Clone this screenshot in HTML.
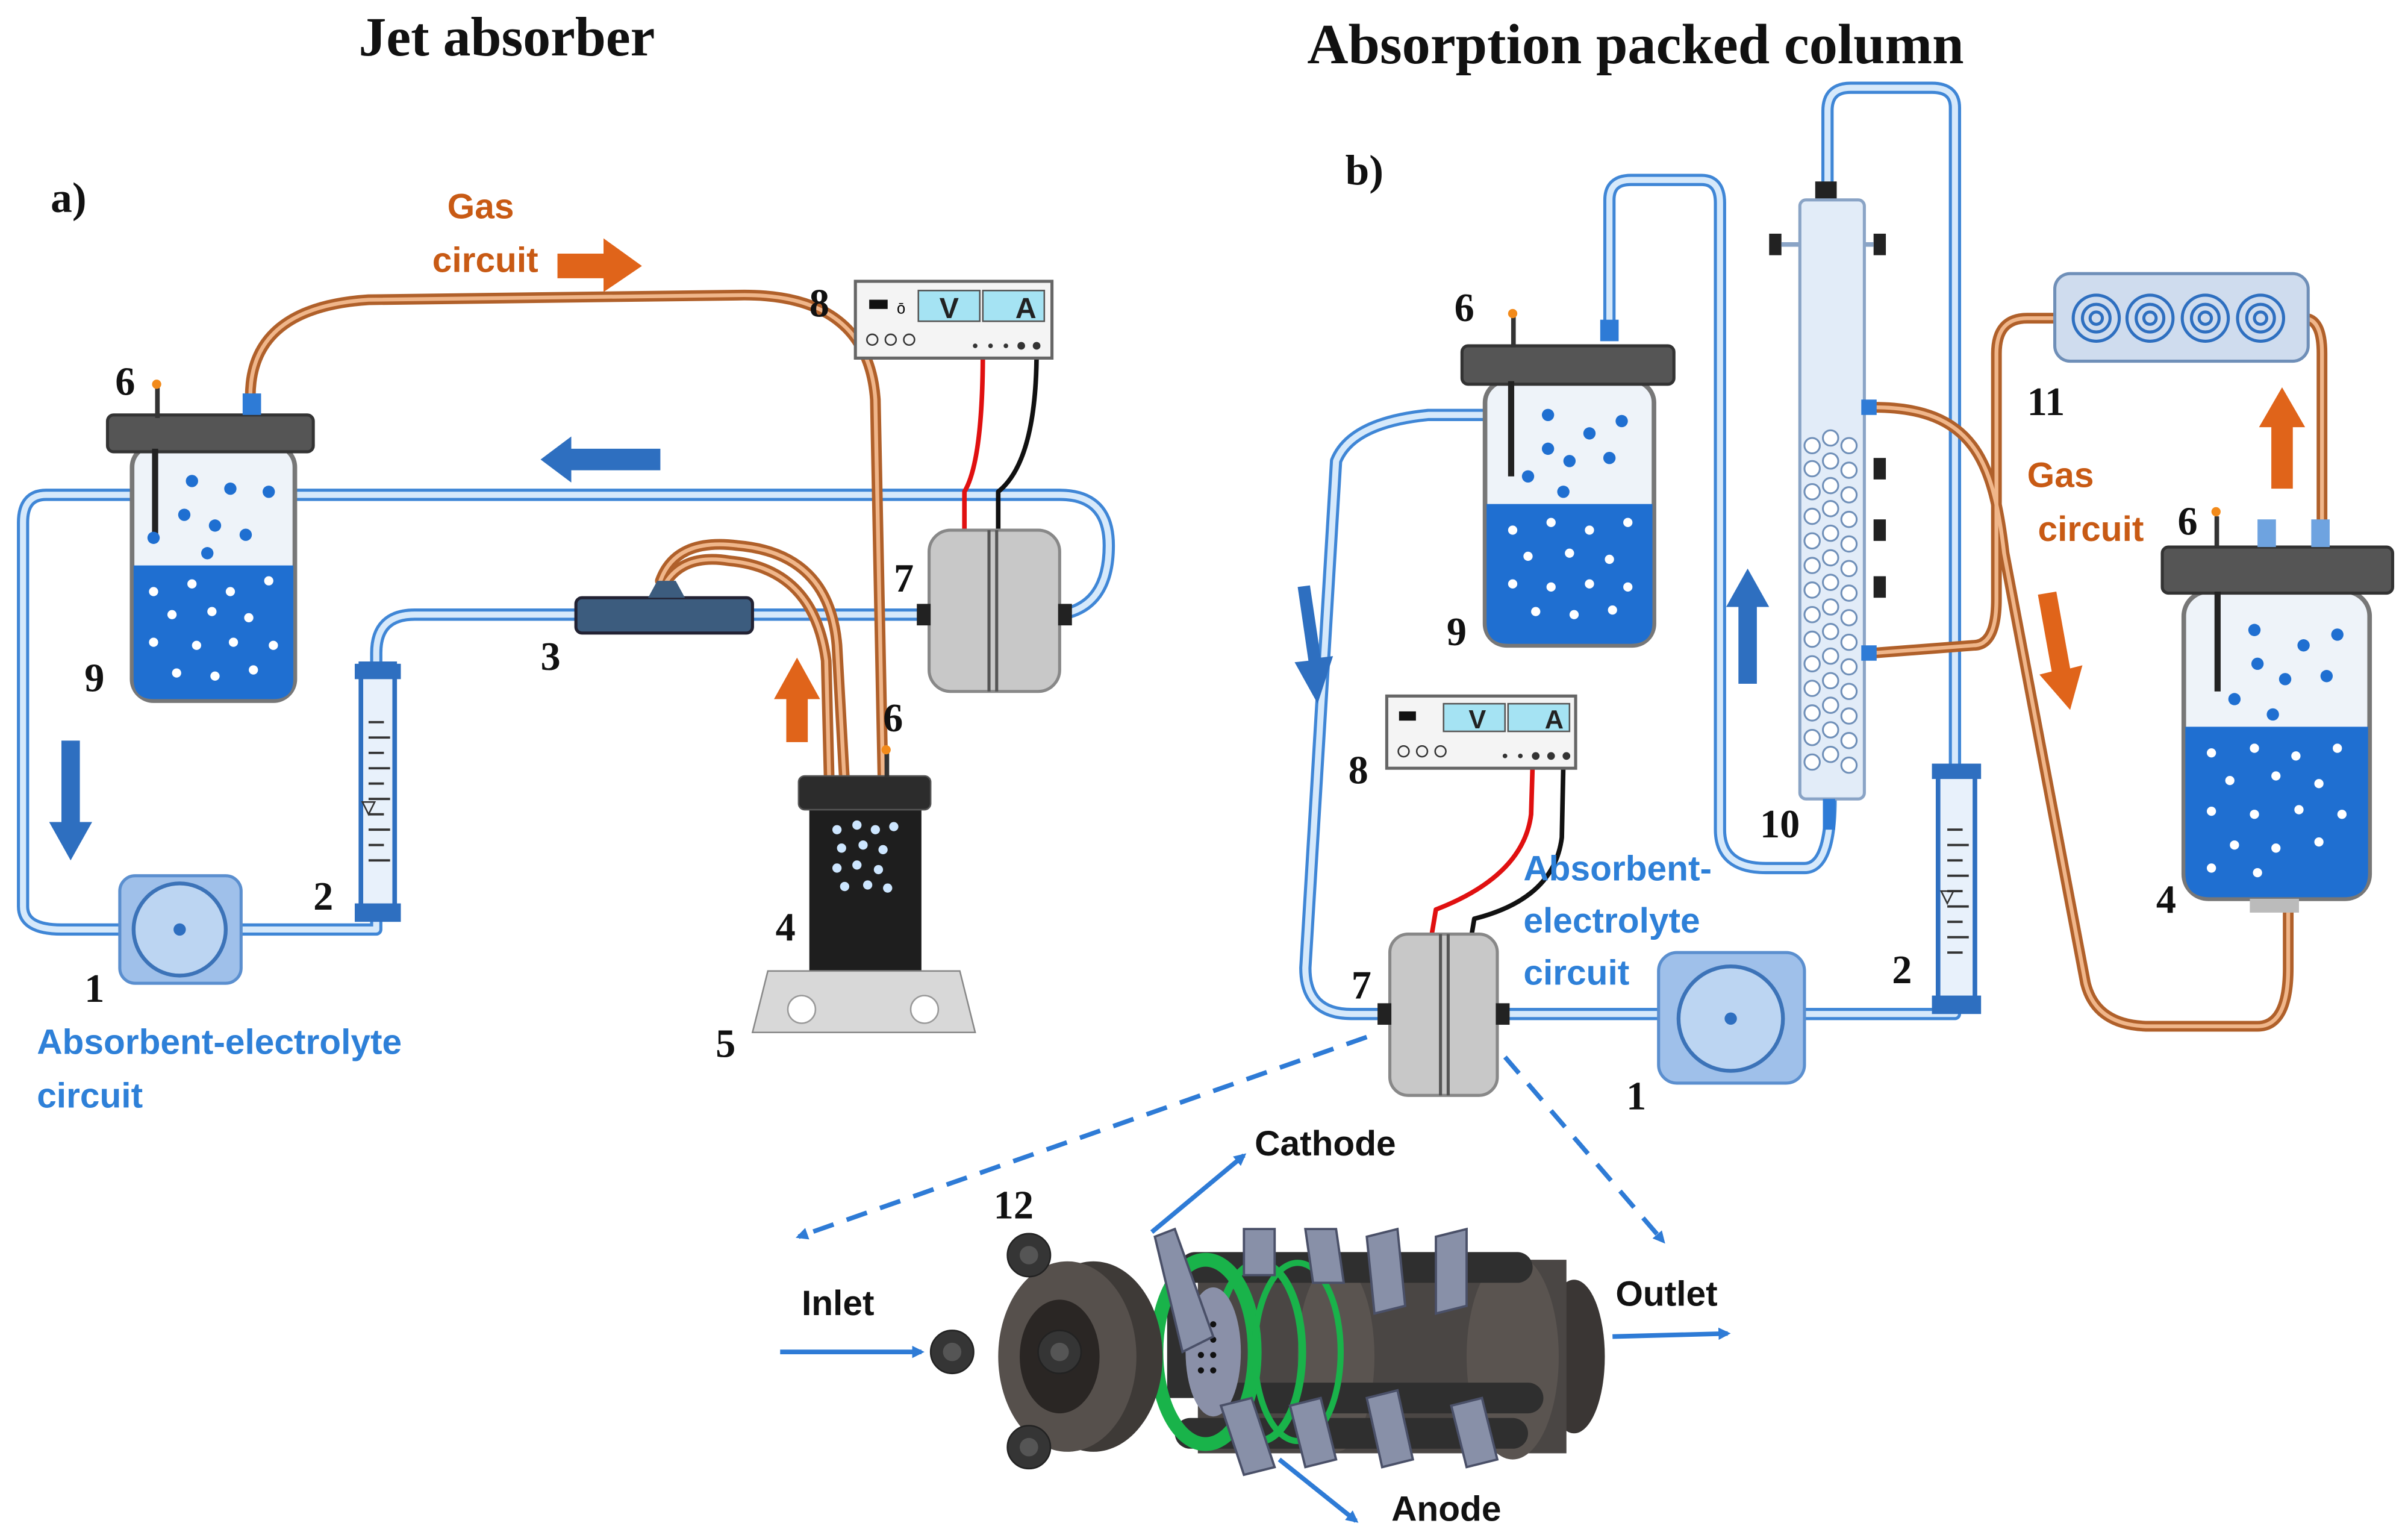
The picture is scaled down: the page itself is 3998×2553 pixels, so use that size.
<!DOCTYPE html>
<html><head><meta charset="utf-8"><style>
html,body{margin:0;padding:0;background:#fff}
svg{display:block}
.t{font-family:"Liberation Serif",serif;font-weight:bold;fill:#111}
.s{font-family:"Liberation Sans",sans-serif;font-weight:bold}
</style></head><body>
<svg width="3998" height="2553" viewBox="0 0 1568 1001" xmlns="http://www.w3.org/2000/svg">
<defs>
<marker id="ah" markerWidth="8" markerHeight="8" refX="6" refY="4" orient="auto" markerUnits="userSpaceOnUse"><path d="M0,0 L8,4 L0,8 z" fill="#2e7bd6"/></marker>
</defs>
<rect width="1568" height="1001" fill="#fff"/>
<text class="t" x="330" y="36" font-size="36" text-anchor="middle">Jet absorber</text>
<text class="t" x="1065" y="41" font-size="37" text-anchor="middle">Absorption packed column</text>
<text class="t" x="33" y="138" font-size="28">a)</text>
<text class="t" x="876" y="120" font-size="28">b)</text>

<!-- ===== LEFT TUBES ===== -->
<g fill="none" stroke-linejoin="round" stroke-linecap="round">
<g stroke="#3f86d6" stroke-width="8">
<path d="M85,322 L30,322 Q15,322 15,340 L15,590 Q15,605 40,605 L80,605"/>
<path d="M193,322 L690,322 Q722,322 722,355 Q722,395 690,400 L680,400"/>
<path d="M155,605 L245,605 L245,600"/>
<path d="M245,432 L245,425 Q245,400 270,400 L375,400"/>
<path d="M490,400 L600,400"/>
</g>
<g stroke="#d6e9fb" stroke-width="4">
<path d="M85,322 L30,322 Q15,322 15,340 L15,590 Q15,605 40,605 L80,605"/>
<path d="M193,322 L690,322 Q722,322 722,355 Q722,395 690,400 L680,400"/>
<path d="M155,605 L245,605 L245,600"/>
<path d="M245,432 L245,425 Q245,400 270,400 L375,400"/>
<path d="M490,400 L600,400"/>
</g>
<g stroke="#b0602a" stroke-width="7">
<path d="M163,258 Q163,200 240,195 L480,192 Q565,190 570,260 L575,510"/>
<path d="M430,378 Q440,350 480,355 Q540,360 545,420 L550,510"/>
<path d="M433,380 Q445,360 475,365 Q530,370 538,430 L540,510"/>
</g>
<g stroke="#f0b68a" stroke-width="2.5">
<path d="M163,258 Q163,200 240,195 L480,192 Q565,190 570,260 L575,510"/>
<path d="M430,378 Q440,350 480,355 Q540,360 545,420 L550,510"/>
<path d="M433,380 Q445,360 475,365 Q530,370 538,430 L540,510"/>
</g>
<path d="M640,228 Q640,300 628,320 L628,345" stroke="#e01010" stroke-width="3"/>
<path d="M675,228 Q675,300 650,320 L650,345" stroke="#111" stroke-width="3"/>
</g>

<!-- Left beaker 9 -->
<rect x="86" y="290" width="106" height="166" rx="14" fill="#eef3f9" stroke="#777" stroke-width="3"/>
<path d="M87,368 L191,368 L191,442 Q191,455 178,455 L100,455 Q87,455 87,442 Z" fill="#1f6fd1"/>
<rect x="70" y="270" width="134" height="24" rx="4" fill="#555" stroke="#333" stroke-width="2"/>
<rect x="99" y="292" width="4" height="60" fill="#222"/>
<rect x="101" y="252" width="3" height="20" fill="#333"/><circle cx="102" cy="250" r="3" fill="#f28a1a"/>
<rect x="158" y="256" width="12" height="14" fill="#2e7bd6"/>
<g fill="#1f6fd1"><circle cx="125" cy="313" r="4"/><circle cx="150" cy="318" r="4"/><circle cx="175" cy="320" r="4"/><circle cx="120" cy="335" r="4"/><circle cx="140" cy="342" r="4"/><circle cx="160" cy="348" r="4"/><circle cx="100" cy="350" r="4"/><circle cx="135" cy="360" r="4"/></g>
<g fill="#fff"><circle cx="100" cy="385" r="3"/><circle cx="125" cy="380" r="3"/><circle cx="150" cy="385" r="3"/><circle cx="175" cy="378" r="3"/><circle cx="112" cy="400" r="3"/><circle cx="138" cy="398" r="3"/><circle cx="162" cy="402" r="3"/><circle cx="100" cy="418" r="3"/><circle cx="128" cy="420" r="3"/><circle cx="152" cy="418" r="3"/><circle cx="178" cy="420" r="3"/><circle cx="115" cy="438" r="3"/><circle cx="140" cy="440" r="3"/><circle cx="165" cy="436" r="3"/></g>

<!-- pump 1 left -->
<rect x="78" y="570" width="79" height="70" rx="10" fill="#9fc0ea" stroke="#5b8fcf" stroke-width="2"/>
<circle cx="117" cy="605" r="30" fill="#bcd5f2" stroke="#3c73b8" stroke-width="2.5"/><circle cx="117" cy="605" r="4" fill="#2e6fc0"/>
<!-- flowmeter 2 left -->
<rect x="235" y="432" width="22" height="165" fill="#e8f1fb" stroke="#2e6fc0" stroke-width="3"/>
<rect x="231" y="432" width="30" height="10" fill="#2e6fc0"/><rect x="231" y="588" width="30" height="12" fill="#2e6fc0"/>
<g stroke="#333" stroke-width="1.5"><path d="M240,470h10M240,480h14M240,490h10M240,500h14M240,510h10M240,520h14M240,530h10M240,540h14M240,550h10M240,560h14"/></g>
<path d="M236,522 L244,522 L240,530 Z" fill="none" stroke="#333"/>
<!-- 3 -->
<rect x="375" y="389" width="115" height="23" rx="4" fill="#3c5c7e" stroke="#223" stroke-width="2"/>
<path d="M422,389 L428,378 L440,378 L446,389 Z" fill="#3c5c7e"/>
<!-- cell 7 left -->
<rect x="605" y="345" width="85" height="105" rx="14" fill="#c8c8c8" stroke="#888" stroke-width="2"/>
<rect x="643" y="345" width="2" height="105" fill="#555"/><rect x="648" y="345" width="2" height="105" fill="#555"/>
<rect x="597" y="393" width="9" height="14" fill="#222"/><rect x="689" y="393" width="9" height="14" fill="#222"/>
<!-- PSU 8 left -->
<rect x="557" y="183" width="128" height="50" fill="#f4f4f4" stroke="#666" stroke-width="2"/>
<rect x="566" y="195" width="12" height="6" fill="#111"/><text x="584" y="204" font-size="10" font-family="Liberation Sans">ō</text>
<rect x="598" y="189" width="40" height="20" fill="#a5e3f3" stroke="#555"/><rect x="640" y="189" width="40" height="20" fill="#a5e3f3" stroke="#555"/>
<text class="s" x="618" y="207" font-size="19" text-anchor="middle" fill="#222">V</text><text class="s" x="668" y="207" font-size="19" text-anchor="middle" fill="#222">A</text>
<g fill="none" stroke="#333"><circle cx="568" cy="221" r="3.5"/><circle cx="580" cy="221" r="3.5"/><circle cx="592" cy="221" r="3.5"/></g>
<g fill="#333"><circle cx="635" cy="225" r="1.5"/><circle cx="645" cy="225" r="1.5"/><circle cx="655" cy="225" r="1.5"/><circle cx="665" cy="225" r="2.5"/><circle cx="675" cy="225" r="2.5"/></g>
<!-- beaker 4 left -->
<rect x="527" y="515" width="73" height="125" rx="6" fill="#1e1e1e"/>
<rect x="520" y="505" width="86" height="22" rx="4" fill="#2c2c2c" stroke="#555"/>
<rect x="576" y="490" width="3" height="16" fill="#333"/><circle cx="577" cy="488" r="3" fill="#f28a1a"/>
<g fill="#cde6ff"><circle cx="545" cy="540" r="3"/><circle cx="558" cy="537" r="3"/><circle cx="570" cy="540" r="3"/><circle cx="582" cy="538" r="3"/><circle cx="548" cy="552" r="3"/><circle cx="562" cy="550" r="3"/><circle cx="575" cy="553" r="3"/><circle cx="545" cy="565" r="3"/><circle cx="558" cy="563" r="3"/><circle cx="572" cy="566" r="3"/><circle cx="550" cy="577" r="3"/><circle cx="565" cy="576" r="3"/><circle cx="578" cy="578" r="3"/></g>
<!-- stirrer 5 -->
<path d="M500,632 L625,632 L635,672 L490,672 Z" fill="#d8d8d8" stroke="#888"/>
<circle cx="522" cy="657" r="9" fill="#fff" stroke="#999"/><circle cx="602" cy="657" r="9" fill="#fff" stroke="#999"/>

<!-- left arrows & labels -->
<path d="M430,292 L372,292 L372,284 L352,299 L372,314 L372,306 L430,306 Z" fill="#2e6fc0"/>
<path d="M40,482 L40,535 L32,535 L46,560 L60,535 L52,535 L52,482 Z" fill="#2e6fc0"/>
<path d="M512,483 L512,455 L504,455 L519,428 L534,455 L526,455 L526,483 Z" fill="#e0641a"/>
<path d="M363,165 L393,165 L393,155 L418,173 L393,190 L393,181 L363,181 Z" fill="#e0641a"/>
<text class="s" x="313" y="142" font-size="23" text-anchor="middle" fill="#c85a14">Gas</text>
<text class="s" x="316" y="177" font-size="23" text-anchor="middle" fill="#c85a14">circuit</text>
<text class="s" x="24" y="686" font-size="23" fill="#2e80d8">Absorbent-electrolyte</text>
<text class="s" x="24" y="721" font-size="23" fill="#2e80d8">circuit</text>
<g class="t" font-size="26">
<text x="75" y="257">6</text><text x="55" y="450">9</text><text x="55" y="652">1</text><text x="204" y="592">2</text><text x="352" y="436">3</text><text x="582" y="385">7</text><text x="527" y="206">8</text><text x="575" y="476">6</text><text x="505" y="612">4</text><text x="466" y="688">5</text>
</g>

<!-- ===== RIGHT TUBES ===== -->
<g fill="none" stroke-linejoin="round" stroke-linecap="round">
<g stroke="#3f86d6" stroke-width="8">
<path d="M967,270 L930,270 Q880,275 870,300 L850,630 Q850,660 880,660 L905,660"/>
<path d="M975,660 L1080,660"/>
<path d="M1175,660 L1273,660 L1273,655"/>
<path d="M1273,500 L1273,70 Q1273,57 1258,57 L1205,57 Q1190,57 1190,72 L1190,120"/>
<path d="M1048,210 L1048,130 Q1048,117 1062,117 L1108,117 Q1120,117 1120,132 L1120,540 Q1120,565 1150,565 L1175,565 Q1192,565 1192,520"/>
</g>
<g stroke="#d6e9fb" stroke-width="4">
<path d="M967,270 L930,270 Q880,275 870,300 L850,630 Q850,660 880,660 L905,660"/>
<path d="M975,660 L1080,660"/>
<path d="M1175,660 L1273,660 L1273,655"/>
<path d="M1273,500 L1273,70 Q1273,57 1258,57 L1205,57 Q1190,57 1190,72 L1190,120"/>
<path d="M1048,210 L1048,130 Q1048,117 1062,117 L1108,117 Q1120,117 1120,132 L1120,540 Q1120,565 1150,565 L1175,565 Q1192,565 1192,520"/>
</g>
<g stroke="#b0602a" stroke-width="7">
<path d="M1220,265 C1285,265 1298,300 1305,360 L1358,640 Q1365,668 1400,668 L1470,668 Q1490,668 1490,630 L1490,592"/>
<path d="M1220,425 L1285,420 Q1300,420 1300,390 L1300,230 Q1300,207 1320,207 L1340,207"/>
<path d="M1500,207 Q1512,207 1512,230 L1512,340"/>
</g>
<g stroke="#f0b68a" stroke-width="2.5">
<path d="M1220,265 C1285,265 1298,300 1305,360 L1358,640 Q1365,668 1400,668 L1470,668 Q1490,668 1490,630 L1490,592"/>
<path d="M1220,425 L1285,420 Q1300,420 1300,390 L1300,230 Q1300,207 1320,207 L1340,207"/>
<path d="M1500,207 Q1512,207 1512,230 L1512,340"/>
</g>
<path d="M998,497 L997,530 Q992,570 935,592 L932,610" stroke="#e01010" stroke-width="3"/>
<path d="M1018,497 L1017,545 Q1012,585 960,598 L958,610" stroke="#111" stroke-width="3"/>
</g>

<!-- right beaker 9 -->
<rect x="967" y="248" width="110" height="172" rx="14" fill="#eef3f9" stroke="#777" stroke-width="3"/>
<path d="M968,328 L1076,328 L1076,405 Q1076,419 1062,419 L982,419 Q968,419 968,405 Z" fill="#1f6fd1"/>
<rect x="952" y="225" width="138" height="25" rx="4" fill="#555" stroke="#333" stroke-width="2"/>
<rect x="982" y="248" width="4" height="62" fill="#222"/>
<rect x="984" y="206" width="3" height="20" fill="#333"/><circle cx="985" cy="204" r="3" fill="#f28a1a"/>
<rect x="1042" y="208" width="12" height="14" fill="#2e7bd6"/>
<g fill="#1f6fd1"><circle cx="1008" cy="270" r="4"/><circle cx="1035" cy="282" r="4"/><circle cx="1056" cy="274" r="4"/><circle cx="1008" cy="292" r="4"/><circle cx="1022" cy="300" r="4"/><circle cx="1048" cy="298" r="4"/><circle cx="995" cy="310" r="4"/><circle cx="1018" cy="320" r="4"/></g>
<g fill="#fff"><circle cx="985" cy="345" r="3"/><circle cx="1010" cy="340" r="3"/><circle cx="1035" cy="345" r="3"/><circle cx="1060" cy="340" r="3"/><circle cx="995" cy="362" r="3"/><circle cx="1022" cy="360" r="3"/><circle cx="1048" cy="364" r="3"/><circle cx="985" cy="380" r="3"/><circle cx="1010" cy="382" r="3"/><circle cx="1035" cy="380" r="3"/><circle cx="1060" cy="382" r="3"/><circle cx="1000" cy="398" r="3"/><circle cx="1025" cy="400" r="3"/><circle cx="1050" cy="397" r="3"/></g>

<!-- column 10 -->
<rect x="1182" y="118" width="14" height="12" fill="#222"/>
<rect x="1172" y="130" width="42" height="390" rx="4" fill="#e2ecf8" stroke="#8aa4c6" stroke-width="2"/>
<rect x="1152" y="152" width="8" height="14" fill="#222"/><rect x="1220" y="152" width="8" height="14" fill="#222"/>
<path d="M1160,159 L1172,159 M1214,159 L1220,159" stroke="#8aa4c6" stroke-width="3"/>
<g fill="#222"><rect x="1220" y="298" width="8" height="14"/><rect x="1220" y="338" width="8" height="14"/><rect x="1220" y="375" width="8" height="14"/></g>
<rect x="1212" y="260" width="10" height="10" fill="#2e7bd6"/><rect x="1212" y="420" width="10" height="10" fill="#2e7bd6"/>
<rect x="1187" y="520" width="8" height="20" fill="#2e7bd6"/>
<g fill="#fff" stroke="#6f8fb8" stroke-width="1.2">
<circle cx="1180" cy="290" r="5"/><circle cx="1192" cy="285" r="5"/><circle cx="1204" cy="290" r="5"/>
<circle cx="1180" cy="305" r="5"/><circle cx="1192" cy="300" r="5"/><circle cx="1204" cy="306" r="5"/>
<circle cx="1180" cy="320" r="5"/><circle cx="1192" cy="316" r="5"/><circle cx="1204" cy="322" r="5"/>
<circle cx="1180" cy="336" r="5"/><circle cx="1192" cy="331" r="5"/><circle cx="1204" cy="338" r="5"/>
<circle cx="1180" cy="352" r="5"/><circle cx="1192" cy="347" r="5"/><circle cx="1204" cy="354" r="5"/>
<circle cx="1180" cy="368" r="5"/><circle cx="1192" cy="363" r="5"/><circle cx="1204" cy="370" r="5"/>
<circle cx="1180" cy="384" r="5"/><circle cx="1192" cy="379" r="5"/><circle cx="1204" cy="386" r="5"/>
<circle cx="1180" cy="400" r="5"/><circle cx="1192" cy="395" r="5"/><circle cx="1204" cy="402" r="5"/>
<circle cx="1180" cy="416" r="5"/><circle cx="1192" cy="411" r="5"/><circle cx="1204" cy="418" r="5"/>
<circle cx="1180" cy="432" r="5"/><circle cx="1192" cy="427" r="5"/><circle cx="1204" cy="434" r="5"/>
<circle cx="1180" cy="448" r="5"/><circle cx="1192" cy="443" r="5"/><circle cx="1204" cy="450" r="5"/>
<circle cx="1180" cy="464" r="5"/><circle cx="1192" cy="459" r="5"/><circle cx="1204" cy="466" r="5"/>
<circle cx="1180" cy="480" r="5"/><circle cx="1192" cy="475" r="5"/><circle cx="1204" cy="482" r="5"/>
<circle cx="1180" cy="496" r="5"/><circle cx="1192" cy="491" r="5"/><circle cx="1204" cy="498" r="5"/>
</g>

<!-- PSU 8 right -->
<rect x="903" y="453" width="123" height="47" fill="#f4f4f4" stroke="#666" stroke-width="2"/>
<rect x="911" y="463" width="11" height="6" fill="#111"/>
<rect x="940" y="458" width="40" height="18" fill="#a5e3f3" stroke="#555"/><rect x="982" y="458" width="40" height="18" fill="#a5e3f3" stroke="#555"/>
<text class="s" x="962" y="474" font-size="17" text-anchor="middle" fill="#222">V</text><text class="s" x="1012" y="474" font-size="17" text-anchor="middle" fill="#222">A</text>
<g fill="none" stroke="#333"><circle cx="914" cy="489" r="3.5"/><circle cx="926" cy="489" r="3.5"/><circle cx="938" cy="489" r="3.5"/></g>
<g fill="#333"><circle cx="980" cy="492" r="1.5"/><circle cx="990" cy="492" r="1.5"/><circle cx="1000" cy="492" r="2.5"/><circle cx="1010" cy="492" r="2.5"/><circle cx="1020" cy="492" r="2.5"/></g>
<!-- cell 7 right -->
<rect x="905" y="608" width="70" height="105" rx="12" fill="#c8c8c8" stroke="#888" stroke-width="2"/>
<rect x="937" y="608" width="2" height="105" fill="#555"/><rect x="942" y="608" width="2" height="105" fill="#555"/>
<rect x="897" y="653" width="9" height="14" fill="#222"/><rect x="974" y="653" width="9" height="14" fill="#222"/>
<!-- pump 1 right -->
<rect x="1080" y="620" width="95" height="85" rx="12" fill="#9fc0ea" stroke="#5b8fcf" stroke-width="2"/>
<circle cx="1127" cy="663" r="34" fill="#bcd5f2" stroke="#3c73b8" stroke-width="2.5"/><circle cx="1127" cy="663" r="4" fill="#2e6fc0"/>
<!-- flowmeter 2 right -->
<rect x="1262" y="505" width="24" height="148" fill="#e8f1fb" stroke="#2e6fc0" stroke-width="3"/>
<rect x="1258" y="497" width="32" height="10" fill="#2e6fc0"/><rect x="1258" y="648" width="32" height="12" fill="#2e6fc0"/>
<g stroke="#333" stroke-width="1.5"><path d="M1268,540h10M1268,550h14M1268,560h10M1268,570h14M1268,580h10M1268,590h14M1268,600h10M1268,610h14M1268,620h10"/></g>
<path d="M1264,580 L1272,580 L1268,588 Z" fill="none" stroke="#333"/>
<!-- 11 -->
<rect x="1338" y="178" width="165" height="57" rx="10" fill="#cfdcee" stroke="#6f8fb8" stroke-width="2"/>
<g fill="none" stroke="#2e6fc0" stroke-width="2"><circle cx="1365" cy="207" r="15"/><circle cx="1365" cy="207" r="9"/><circle cx="1365" cy="207" r="4"/><circle cx="1400" cy="207" r="15"/><circle cx="1400" cy="207" r="9"/><circle cx="1400" cy="207" r="4"/><circle cx="1436" cy="207" r="15"/><circle cx="1436" cy="207" r="9"/><circle cx="1436" cy="207" r="4"/><circle cx="1472" cy="207" r="15"/><circle cx="1472" cy="207" r="9"/><circle cx="1472" cy="207" r="4"/></g>
<!-- beaker 4 right -->
<rect x="1422" y="385" width="121" height="200" rx="16" fill="#eef3f9" stroke="#777" stroke-width="3"/>
<path d="M1423,473 L1542,473 L1542,568 Q1542,584 1526,584 L1439,584 Q1423,584 1423,568 Z" fill="#1f6fd1"/>
<rect x="1408" y="356" width="150" height="30" rx="4" fill="#555" stroke="#333" stroke-width="2"/>
<rect x="1465" y="585" width="32" height="9" fill="#bbb"/>
<rect x="1442" y="385" width="4" height="65" fill="#222"/>
<rect x="1442" y="336" width="3" height="20" fill="#333"/><circle cx="1443" cy="333" r="3" fill="#f28a1a"/>
<rect x="1470" y="338" width="12" height="18" fill="#6ea3e0"/><rect x="1505" y="338" width="12" height="18" fill="#6ea3e0"/>
<g fill="#1f6fd1"><circle cx="1468" cy="410" r="4"/><circle cx="1500" cy="420" r="4"/><circle cx="1522" cy="413" r="4"/><circle cx="1470" cy="432" r="4"/><circle cx="1488" cy="442" r="4"/><circle cx="1515" cy="440" r="4"/><circle cx="1455" cy="455" r="4"/><circle cx="1480" cy="465" r="4"/></g>
<g fill="#fff"><circle cx="1440" cy="490" r="3"/><circle cx="1468" cy="487" r="3"/><circle cx="1495" cy="492" r="3"/><circle cx="1522" cy="487" r="3"/><circle cx="1452" cy="508" r="3"/><circle cx="1482" cy="505" r="3"/><circle cx="1510" cy="510" r="3"/><circle cx="1440" cy="528" r="3"/><circle cx="1468" cy="530" r="3"/><circle cx="1497" cy="527" r="3"/><circle cx="1525" cy="530" r="3"/><circle cx="1455" cy="550" r="3"/><circle cx="1482" cy="552" r="3"/><circle cx="1510" cy="548" r="3"/><circle cx="1440" cy="565" r="3"/><circle cx="1470" cy="568" r="3"/></g>

<!-- right arrows & labels -->
<path d="M845,382 L852,430 L843,431 L858,458 L868,427 L860,428 L853,381 Z" fill="#2e6fc0"/>
<path d="M1132,445 L1132,395 L1124,395 L1138,370 L1152,395 L1144,395 L1144,445 Z" fill="#2e6fc0"/>
<path d="M1479,318 L1479,278 L1471,278 L1486,252 L1501,278 L1493,278 L1493,318 Z" fill="#e0641a"/>
<path d="M1327,387 L1336,437 L1328,439 L1348,462 L1356,433 L1348,435 L1339,385 Z" fill="#e0641a"/>
<text class="s" x="1320" y="317" font-size="23" fill="#c85a14">Gas</text>
<text class="s" x="1327" y="352" font-size="23" fill="#c85a14">circuit</text>
<text class="s" x="992" y="573" font-size="23" fill="#2e80d8">Absorbent-</text>
<text class="s" x="992" y="607" font-size="23" fill="#2e80d8">electrolyte</text>
<text class="s" x="992" y="641" font-size="23" fill="#2e80d8">circuit</text>
<g class="t" font-size="26">
<text x="947" y="209">6</text><text x="942" y="420">9</text><text x="878" y="510">8</text><text x="880" y="650">7</text><text x="1059" y="722">1</text><text x="1232" y="640">2</text><text x="1146" y="545">10</text><text x="1320" y="270">11</text><text x="1418" y="348">6</text><text x="1404" y="594">4</text>
</g>

<!-- bottom assembly -->
<g stroke="#2e7bd6" stroke-width="3" fill="none">
<path d="M890,675 L520,805" stroke-dasharray="14,9" marker-end="url(#ah)"/>
<path d="M980,688 L1083,808" stroke-dasharray="14,9" marker-end="url(#ah)"/>
<path d="M508,880 L600,880" marker-end="url(#ah)"/>
<path d="M1050,870 L1125,868" marker-end="url(#ah)"/>
<path d="M750,802 L810,752" marker-end="url(#ah)"/>
<path d="M833,950 L883,990" marker-end="url(#ah)"/>
</g>
<text class="s" x="817" y="752" font-size="23" fill="#111">Cathode</text>
<text class="s" x="906" y="990" font-size="23" fill="#111">Anode</text>
<text class="s" x="522" y="856" font-size="23" fill="#111">Inlet</text>
<text class="s" x="1052" y="850" font-size="23" fill="#111">Outlet</text>
<text class="t" x="647" y="793" font-size="26">12</text>

<ellipse cx="1025" cy="883" rx="20" ry="50" fill="#3a3634"/>
<rect x="780" y="820" width="240" height="126" fill="#4a4644"/>
<ellipse cx="985" cy="883" rx="30" ry="67" fill="#5a5450"/>
<ellipse cx="870" cy="883" rx="25" ry="62" fill="#5a5450"/>
<g fill="#2f2f2f"><rect x="768" y="815" width="230" height="20" rx="10"/><rect x="785" y="900" width="220" height="20" rx="10"/><rect x="765" y="923" width="230" height="20" rx="10"/><rect x="760" y="850" width="20" height="60"/></g>
<ellipse cx="785" cy="880" rx="32" ry="60" fill="none" stroke="#19b34a" stroke-width="9"/>
<ellipse cx="820" cy="880" rx="28" ry="58" fill="none" stroke="#19b34a" stroke-width="5"/>
<ellipse cx="845" cy="880" rx="28" ry="58" fill="none" stroke="#19b34a" stroke-width="4"/>
<ellipse cx="790" cy="880" rx="18" ry="42" fill="#8a90a8"/>
<g fill="#111"><circle cx="782" cy="862" r="2"/><circle cx="790" cy="862" r="2"/><circle cx="782" cy="872" r="2"/><circle cx="790" cy="872" r="2"/><circle cx="782" cy="882" r="2"/><circle cx="790" cy="882" r="2"/><circle cx="782" cy="892" r="2"/><circle cx="790" cy="892" r="2"/></g>
<g fill="#8890a8" stroke="#4a5068" stroke-width="1.5">
<path d="M752,805 L765,800 L790,870 L770,880 Z"/><path d="M810,800 L830,800 L830,830 L810,830 Z"/><path d="M850,800 L870,800 L875,835 L855,835Z"/><path d="M890,805 L910,800 L915,850 L895,855Z"/><path d="M935,805 L955,800 L955,850 L935,855Z"/>
<path d="M795,915 L815,910 L830,955 L810,960Z"/><path d="M840,915 L860,910 L870,950 L850,955Z"/><path d="M890,910 L910,905 L920,950 L900,955Z"/><path d="M945,915 L965,910 L975,950 L955,955Z"/>
</g>
<ellipse cx="712" cy="883" rx="45" ry="62" fill="#3e3a37"/>
<ellipse cx="695" cy="883" rx="45" ry="62" fill="#56504c"/>
<ellipse cx="690" cy="883" rx="26" ry="37" fill="#2a2624"/>
<g fill="#353535" stroke="#222"><circle cx="670" cy="817" r="14"/><circle cx="620" cy="880" r="14"/><circle cx="690" cy="880" r="14"/><circle cx="670" cy="942" r="14"/></g>
<g fill="#555"><circle cx="670" cy="817" r="6"/><circle cx="620" cy="880" r="6"/><circle cx="690" cy="880" r="6"/><circle cx="670" cy="942" r="6"/></g>
</svg>
</body></html>
